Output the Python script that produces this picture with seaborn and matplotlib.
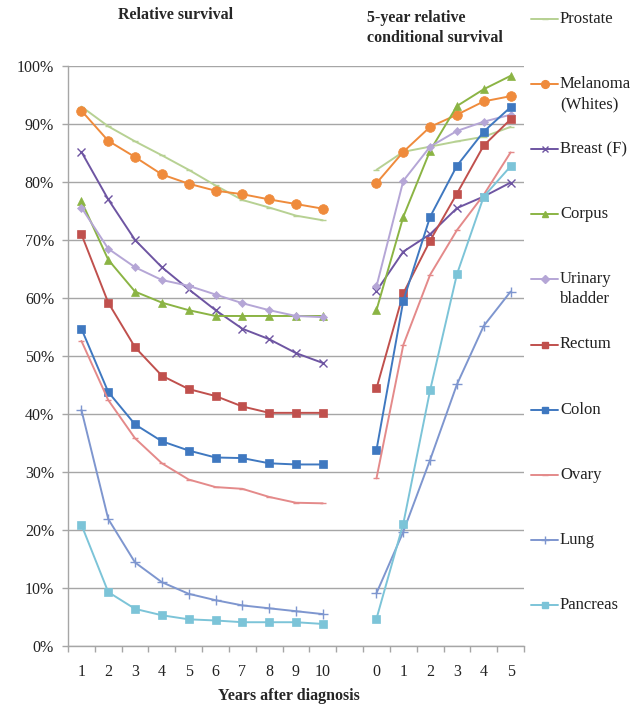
import numpy as np
import pandas as pd
import seaborn as sns
import matplotlib.pyplot as plt
from matplotlib.lines import Line2D
from matplotlib.ticker import PercentFormatter, FixedLocator

sns.set_theme(style="white")
plt.rcParams['font.family'] = ['Liberation Serif', 'DejaVu Serif']

# data, survival in %
sites = ["Prostate", "Melanoma\n(Whites)", "Breast (F)", "Corpus", "Urinary\nbladder",
         "Rectum", "Colon", "Ovary", "Lung", "Pancreas"]
years_rel = ["1", "2", "3", "4", "5", "6", "7", "8", "9", "10"]
years_cond = ["0", "1", "2", "3", "4", "5"]

rel_prostate = [93.0, 89.6, 87.0, 84.6, 82.1, 79.4, 76.9, 75.6, 74.2, 73.4]
rel_melanoma = [92.3, 87.1, 84.3, 81.3, 79.7, 78.5, 77.9, 77.0, 76.2, 75.4]
rel_breast = [85.2, 77.0, 70.0, 65.3, 61.5, 57.9, 54.7, 52.9, 50.5, 48.8]
rel_corpus = [76.7, 66.6, 61.1, 59.2, 57.9, 56.9, 56.9, 56.9, 56.9, 56.9]
rel_bladder = [75.6, 68.5, 65.3, 63.1, 62.1, 60.6, 59.1, 57.9, 56.9, 56.7]
rel_rectum = [71.0, 59.2, 51.5, 46.6, 44.3, 43.1, 41.3, 40.2, 40.2, 40.2]
rel_colon = [54.7, 43.8, 38.2, 35.3, 33.7, 32.5, 32.4, 31.5, 31.3, 31.3]
rel_ovary = [52.6, 42.4, 35.8, 31.5, 28.7, 27.4, 27.1, 25.7, 24.7, 24.6]
rel_lung = [40.7, 21.9, 14.4, 11.0, 9.0, 7.9, 7.0, 6.5, 6.0, 5.5]
rel_pancreas = [20.9, 9.3, 6.4, 5.3, 4.6, 4.4, 4.1, 4.1, 4.1, 3.8]

cond_prostate = [82.1, 85.2, 86.1, 87.0, 87.8, 89.5]
cond_melanoma = [79.8, 85.2, 89.5, 91.6, 93.9, 94.8]
cond_breast = [61.2, 68.0, 71.0, 75.5, 77.5, 79.9]
cond_corpus = [57.9, 74.0, 85.4, 93.1, 96.0, 98.3]
cond_bladder = [62.0, 80.2, 86.1, 88.8, 90.4, 91.6]
cond_rectum = [44.4, 60.8, 69.9, 78.0, 86.3, 90.8]
cond_colon = [33.8, 59.5, 74.0, 82.8, 88.7, 92.9]
cond_ovary = [28.9, 51.9, 64.0, 71.7, 77.8, 85.1]
cond_lung = [9.1, 19.7, 32.1, 45.1, 55.2, 61.1]
cond_pancreas = [4.7, 21.1, 44.1, 64.1, 77.5, 82.7]

rel = [rel_prostate, rel_melanoma, rel_breast, rel_corpus, rel_bladder,
       rel_rectum, rel_colon, rel_ovary, rel_lung, rel_pancreas]
cond = [cond_prostate, cond_melanoma, cond_breast, cond_corpus, cond_bladder,
        cond_rectum, cond_colon, cond_ovary, cond_lung, cond_pancreas]

colors = ["#b7d193", "#ef8b3c", "#6e55a2", "#8bb444", "#b5a6d6",
          "#c0504d", "#3f78c0", "#e48a8a", "#7e96cf", "#7cc4d8"]
markers = ["_", "o", "x", "^", "D", "s", "s", "_", "+", "s"]
msizes = [5, 7, 6, 6, 4.5, 6, 6, 5, 7, 6]

# category axis: 1..10, one empty slot, 0..5
cats = years_rel + [""] + years_cond
rows = []
for s, r, c in zip(sites, rel, cond):
    for y, v in zip(years_rel, r):
        rows.append((s, "rel", cats.index(y), v / 100))
    for y, v in zip(years_cond, c):
        rows.append((s, "cond", len(years_rel) + 1 + years_cond.index(y), v / 100))
df = pd.DataFrame(rows, columns=["site", "panel", "pos", "value"])

fig = plt.figure(figsize=(6.41, 7.08), dpi=100)
ax = fig.add_axes([68 / 641, 1 - 646 / 708, 456 / 641, 580 / 708])

for i, s in enumerate(sites):
    for panel in ["rel", "cond"]:
        sub = df[(df.site == s) & (df.panel == panel)]
        sns.lineplot(data=sub, x="pos", y="value", ax=ax, color=colors[i],
                     marker=markers[i], markersize=msizes[i], linewidth=1.4,
                     markeredgewidth=1.0 if markers[i] in ("x", "+", "_") else 0.5,
                     markeredgecolor=colors[i], legend=False)

ax.set_xlim(-0.5, len(cats) - 0.5)
ax.set_ylim(0, 1.0)
ax.yaxis.set_major_locator(FixedLocator(np.arange(0, 1.01, 0.1)))
ax.yaxis.set_major_formatter(PercentFormatter(1.0, decimals=0))
ax.grid(axis="y", color="#a6a6a6", linewidth=1.0)
ax.set_axisbelow(True)

lab_pos = [k for k, c in enumerate(cats) if c != ""]
ax.set_xticks(lab_pos)
ax.set_xticklabels([cats[k] for k in lab_pos])
ax.set_xticks(np.arange(-0.5, len(cats), 1.0), minor=True)
ax.tick_params(axis="x", which="major", length=0, pad=13, labelsize=11.5, colors="#222222")
ax.tick_params(axis="x", which="minor", length=4, width=1, color="#a6a6a6", direction="out", bottom=True)
ax.tick_params(axis="y", length=4, width=1, color="#a6a6a6", direction="out", left=True, pad=6,
               labelsize=11.5, labelcolor="#222222")

for side in ["top", "right"]:
    ax.spines[side].set_visible(False)
for side in ["left", "bottom"]:
    ax.spines[side].set_color("#a6a6a6")
    ax.spines[side].set_linewidth(1.0)

ax.set_xlabel("")
ax.set_ylabel("")
fig.text(289 / 641, 1 - 696 / 708, "Years after diagnosis", ha="center", va="center",
         fontweight="bold", fontsize=11.5)

fig.text(176 / 641, 1 - 15 / 708, "Relative survival", ha="center", va="center",
         fontweight="bold", fontsize=11.5)
fig.text(367 / 641, 1 - 18 / 708, "5-year relative", ha="left", va="center",
         fontweight="bold", fontsize=11.5)
fig.text(367 / 641, 1 - 38 / 708, "conditional survival", ha="left", va="center",
         fontweight="bold", fontsize=11.5)

# legend on the right, one entry every ~65 px
for i, s in enumerate(sites):
    ypx = 19 + 65.1 * i
    yf = 1 - ypx / 708
    fig.add_artist(Line2D([531 / 641, 558 / 641], [yf, yf], color=colors[i], linewidth=1.4,
                          transform=fig.transFigure))
    fig.add_artist(Line2D([544.5 / 641], [yf], color=colors[i], marker=markers[i],
                          markersize=msizes[i] * 0.8, markeredgecolor=colors[i],
                          transform=fig.transFigure))
    for j, line in enumerate(s.split("\n")):
        fig.text(560 / 641, 1 - (ypx + 20 * j) / 708, line, ha="left", va="center",
                 fontsize=12, color="#222222")

fig.savefig("out.png", dpi=100)
